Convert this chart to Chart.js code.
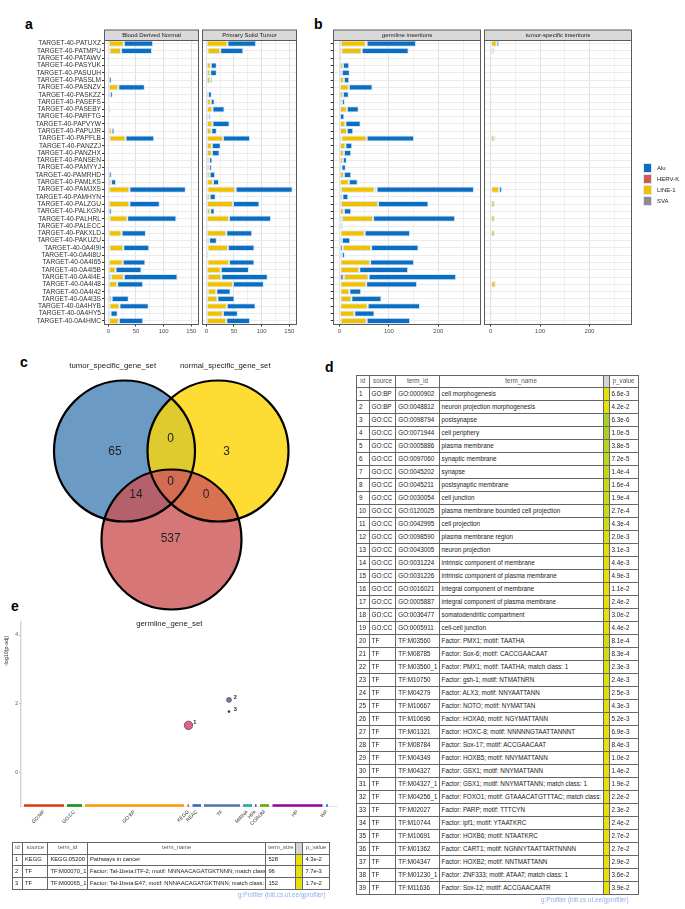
<!DOCTYPE html>
<html><head><meta charset="utf-8">
<script src="https://cdn.jsdelivr.net/npm/chart.js@4.4.1/dist/chart.umd.min.js"></script>
<style>
html,body{margin:0;padding:0;background:#fff}
body{position:relative;width:685px;height:909px;overflow:hidden;font-family:"Liberation Sans",Arial,Helvetica,sans-serif}
canvas{position:absolute;display:block}
.plab{position:absolute;font-size:14px;font-weight:bold;line-height:14px;color:#000}
.leg{position:absolute;left:643px;width:40px;font-size:6px;color:#222;line-height:10px;height:10px;white-space:nowrap}
.leg span.k{position:absolute;left:0;top:0;width:9px;height:10px;box-sizing:border-box;border:1px solid #dbe6f2}
.leg span.t{position:absolute;left:14px;top:0}
table.gp{position:absolute;border-collapse:collapse;table-layout:fixed;font-size:6.3px;line-height:6.3px;color:#222}
table.gp td,table.gp th{border:1px solid #666;padding:0 0 0 2px;white-space:nowrap;overflow:hidden;text-align:left;font-weight:normal;vertical-align:middle}
table.gp th{text-align:center;color:#555;padding:0}
table.gp td.col,table.gp th.col{padding:0;border-left:1px solid #bbb}
table.small{font-size:5.8px;line-height:5.8px}
.src{position:absolute;font-size:6.3px;color:#8cb0ea;white-space:nowrap;line-height:7px}
</style></head>
<body>
<div class="plab" style="left:25px;top:17px">a</div>
<div class="plab" style="left:314px;top:17px">b</div>
<div class="plab" style="left:20px;top:355px">c</div>
<div class="plab" style="left:325px;top:360px">d</div>
<div class="plab" style="left:11px;top:599px">e</div>
<canvas id="a1" width="202" height="345" style="left:0;top:0"></canvas>
<canvas id="a2" width="100" height="345" style="left:200px;top:0"></canvas>
<canvas id="b1" width="158" height="345" style="left:326px;top:0"></canvas>
<canvas id="b2" width="203" height="345" style="left:482px;top:0"></canvas>
<canvas id="venn" width="340" height="285" style="left:0;top:355px"></canvas>
<canvas id="gp" width="345" height="228" style="left:0;top:612px"></canvas>
<table id="tabD" class="gp" style="left:356px;top:375px"></table>
<table id="tabE" class="gp small" style="left:12px;top:842px"></table>
<div class="src" style="left:541px;top:896px">g:Profiler (biit.cs.ut.ee/gprofiler)</div>
<div class="src" style="left:238px;top:891px">g:Profiler (biit.cs.ut.ee/gprofiler)</div>
<script>
// ---------------- DATA ----------------
const samples = ["TARGET-40-PATUXZ","TARGET-40-PATMPU","TARGET-40-PATAWV","TARGET-40-PASYUK","TARGET-40-PASUUH","TARGET-40-PASSLM","TARGET-40-PASNZV","TARGET-40-PASKZZ","TARGET-40-PASEFS","TARGET-40-PASEBY","TARGET-40-PARFTG","TARGET-40-PAPVYW","TARGET-40-PAPUJR","TARGET-40-PAPFLB","TARGET-40-PANZZJ","TARGET-40-PANZHX","TARGET-40-PANSEN","TARGET-40-PAMYYJ","TARGET-40-PAMRHD","TARGET-40-PAMLKS","TARGET-40-PAMJXS","TARGET-40-PAMHYN","TARGET-40-PALZGU","TARGET-40-PALKGN","TARGET-40-PALHRL","TARGET-40-PALECC","TARGET-40-PAKXLD","TARGET-40-PAKUZU","TARGET-40-0A4I9I","TARGET-40-0A4I8U","TARGET-40-0A4I65","TARGET-40-0A4I5B","TARGET-40-0A4I4E","TARGET-40-0A4I48","TARGET-40-0A4I42","TARGET-40-0A4I3S","TARGET-40-0A4HYB","TARGET-40-0A4HY5","TARGET-40-0A4HMC"];

// Panel a: Blood Derived Normal
const normalSVA   = [0,2,0,0,0,0,0,0,0,0, 0,0,0,2,0,0,0,0,0,0, 0,0,0,0,2,0,1,0,2,0, 1,0,5,1,0,0,2,0,0];
const normalLINE1 = [28,21,0,0,0,1,18,3,0,1, 0,0,6,29,1,0,0,0,1,5, 38,1,38,1,32,0,23,0,25,2, 25,13,23,15,4,6,18,4,19];
const normalHERVK = [0,0,0,0,0,0,0,0,0,0, 0,0,0,0,0,0,0,0,0,0, 0,0,0,0,0,0,0,0,0,0, 0,0,0,0,0,0,0,0,0];
const normalAlu   = [53,56,2,1,2,5,48,5,0,2, 0,0,5,52,0,0,1,1,5,9, 102,0,55,5,89,0,44,2,47,0, 41,47,97,47,1,31,53,13,44];
// Panel a: Primary Solid Tumor
const tumorSVA    = [0,2,0,0,0,0,0,0,0,0, 0,0,0,0,0,0,0,0,0,0, 2,0,0,0,0,0,0,0,2,0, 2,0,2,0,3,0,0,0,0];
const tumorLINE1  = [38,23,0,8,7,7,0,3,8,11, 4,11,9,30,10,10,5,5,6,12, 50,6,48,7,41,2,36,5,37,0, 39,26,25,48,15,20,37,30,36];
const tumorHERVK  = [0,0,0,0,0,0,0,0,0,0, 0,0,0,0,0,0,0,0,0,0, 1,0,0,0,0,0,0,0,0,0, 0,0,0,0,0,0,0,0,0];
const tumorAlu    = [52,42,2,11,12,4,0,7,7,22, 4,31,10,49,16,14,6,5,10,11, 103,11,48,8,76,2,47,14,48,3, 46,51,84,56,26,31,52,27,43];
// Panel b: germline insertions
const germSVA     = [3,4,0,0,0,0,0,0,0,0, 0,0,0,4,0,0,0,0,0,0, 3,0,3,0,5,0,2,0,7,0, 2,2,9,2,2,2,2,0,2];
const germLINE1   = [50,41,0,7,5,9,19,7,5,15, 0,12,15,51,12,9,7,4,9,19, 68,6,75,9,63,3,49,5,57,5, 60,38,50,52,18,22,55,30,53];
const germHERVK   = [2,0,0,0,0,0,0,0,0,0, 0,0,0,0,0,0,0,0,0,0, 4,0,0,0,0,0,0,0,0,0, 0,0,0,0,0,0,0,0,0];
const germAlu     = [100,95,4,13,16,11,48,12,6,24, 10,31,13,96,14,15,8,9,15,18, 197,12,102,15,166,4,92,17,96,6, 89,99,177,103,24,61,106,41,88];
// Panel b: tumor-specific insertions
const tspecSVA    = [0,0,0,0,0,0,0,0,0,0, 0,0,0,0,0,0,0,0,0,0, 0,0,0,0,0,0,0,0,0,0, 0,0,0,0,0,0,0,0,0];
const tspecLINE1  = [12,3,0,0,0,0,0,0,3,0, 0,0,0,7,0,0,0,0,0,0, 17,2,8,0,8,0,8,0,0,0, 2,0,0,10,0,1,0,3,0];
const tspecHERVK  = [0,0,0,0,0,0,0,0,0,0, 0,0,0,0,0,0,0,0,0,0, 0,0,0,0,0,0,0,0,0,0, 0,0,0,0,0,0,0,0,0];
const tspecAlu    = [5,4,0,0,0,0,0,0,0,0, 0,0,0,3,1,0,0,0,0,0, 6,0,0,0,0,0,0,0,0,0, 0,0,0,0,3,0,0,0,0];

const teTypes = ["Alu","HERV-K","LINE-1","SVA"];
const ticksA = [0,25,50,75,100,125,150];
const majorA = [0,50,100,150];
const ticksB = [0,50,100,150,200,250];
const majorB = [0,100,200];

// Panel c: Venn
const vennSetNames = ["tumor_specific_gene_set","normal_specific_gene_set","germline_gene_set"];
const vennRegions  = ["T","N","G","TN","TG","NG","TNG"];
const vennCounts   = [65,3,537,0,14,0,0];

// Panel d: GO / TF table
const dSource = ["GO:BP","GO:BP","GO:CC","GO:CC","GO:CC","GO:CC","GO:CC","GO:CC","GO:CC","GO:CC","GO:CC","GO:CC","GO:CC","GO:CC","GO:CC","GO:CC","GO:CC","GO:CC","GO:CC","TF","TF","TF","TF","TF","TF","TF","TF","TF","TF","TF","TF","TF","TF","TF","TF","TF","TF","TF","TF"];
const dTermId = ["GO:0000902","GO:0048812","GO:0098794","GO:0071944","GO:0005886","GO:0097060","GO:0045202","GO:0045211","GO:0030054","GO:0120025","GO:0042995","GO:0098590","GO:0043005","GO:0031224","GO:0031226","GO:0016021","GO:0005887","GO:0036477","GO:0005911","TF:M03560","TF:M08785","TF:M03560_1","TF:M10750","TF:M04279","TF:M10667","TF:M10696","TF:M01321","TF:M08784","TF:M04349","TF:M04327","TF:M04327_1","TF:M04256_1","TF:M02027","TF:M10744","TF:M10691","TF:M01362","TF:M04347","TF:M01230_1","TF:M11636"];
const dTermName = ["cell morphogenesis","neuron projection morphogenesis","postsynapse","cell periphery","plasma membrane","synaptic membrane","synapse","postsynaptic membrane","cell junction","plasma membrane bounded cell projection","cell projection","plasma membrane region","neuron projection","intrinsic component of membrane","intrinsic component of plasma membrane","integral component of membrane","integral component of plasma membrane","somatodendritic compartment","cell-cell junction","Factor: PMX1; motif: TAATHA","Factor: Sox-6; motif: CACCGAACAAT","Factor: PMX1; motif: TAATHA; match class: 1","Factor: gsh-1; motif: NTMATNRN","Factor: ALX3; motif: NNYAATTANN","Factor: NOTO; motif: NYMATTAN","Factor: HOXA6; motif: NGYMATTANN","Factor: HOXC-8; motif: NNNNNGTAATTANNNT","Factor: Sox-17; motif: ACCGAACAAT","Factor: HOXB5; motif: NNYMATTANN","Factor: GSX1; motif: NNYMATTANN","Factor: GSX1; motif: NNYMATTANN; match class: 1","Factor: FOXO1; motif: GTAAACATGTTTAC; match class: 1","Factor: PARP; motif: TTTCYN","Factor: ipf1; motif: YTAATKRC","Factor: HOXB6; motif: NTAATKRC","Factor: CART1; motif: NGNNYTAATTARTNNNN","Factor: HOXB2; motif: NNTMATTANN","Factor: ZNF333; motif: ATAAT; match class: 1","Factor: Sox-12; motif: ACCGAACAATR"];
const dPValue = [6.6e-03,4.2e-02,6.3e-06,1.0e-05,3.8e-05,7.2e-05,1.4e-04,1.6e-04,1.9e-04,2.7e-04,4.3e-04,2.0e-03,3.1e-03,4.4e-03,4.9e-03,1.1e-02,2.4e-02,3.0e-02,4.4e-02,8.1e-04,8.3e-04,2.3e-03,2.4e-03,2.5e-03,4.3e-03,5.2e-03,6.9e-03,8.4e-03,1.0e-02,1.4e-02,1.9e-02,2.2e-02,2.3e-02,2.4e-02,2.7e-02,2.7e-02,2.9e-02,3.6e-02,3.9e-02];

// Panel e: g:Profiler Manhattan + table
const gpSources = ["GO:MF","GO:CC","GO:BP","KEGG","REAC","TF","MIRNA","HPA","CORUM","HP","WP"];
const gpSourceStart = [3,46,64,166.5,171.5,183,222,234,239,251.5,305];
const gpSourceEnd   = [43,61,163,168,180,219,231,235.5,248,301.5,307];
const gpYTicks = [0,2,4];
const ePointX = [167.5,208,208];
const eNegLog10P = [1.37,2.11,1.77];
const eSource = ["KEGG","TF","TF"];
const eTermId = ["KEGG:05200","TF:M00070_1","TF:M00065_1"];
const eTermName = ["Pathways in cancer","Factor: Tal-1beta:ITF-2; motif: NNNAACAGATGKTNNN; match class: 1","Factor: Tal-1beta:E47; motif: NNNAACAGATGKTNNN; match class: 1"];
const eTermSize = [528,96,152];
const ePValue = [4.3e-02,7.7e-03,1.7e-02];

// ---------------- STYLE ----------------
const FONT = '"Liberation Sans", Arial, sans-serif';
Chart.defaults.font.family = FONT;
const teColor = {"Alu":"#0a6fc2","HERV-K":"#d6584f","LINE-1":"#f1c100","SVA":"#8c8c8c"};
const gpColors = ["#dc3912","#109618","#ff9900","#dd4477","#3366cc","#5574a6","#22aa99","#6633cc","#66aa00","#990099","#0099c6"];

function teDatasets(sva, line, herv, alu){
  return [["SVA",sva],["LINE-1",line],["HERV-K",herv],["Alu",alu]].map(([n,d])=>({
    label:n, data:d, backgroundColor:teColor[n], borderColor:"rgba(214,228,243,0.95)",
    borderWidth:1, borderSkipped:false, barPercentage:0.85, categoryPercentage:1, stack:"s"
  }));
}

const panelPlugin = {
  id:"panel",
  afterDraw(chart, args, o){
    const {ctx, chartArea:a} = chart;
    const L=Math.round(a.left)+0.5, R=Math.round(a.right)-0.5, T=Math.round(a.top)+0.5, B=Math.round(a.bottom)-0.5;
    ctx.save();
    ctx.fillStyle="#d9d9d9"; ctx.fillRect(L, T-10.5, R-L, 10.5);
    ctx.strokeStyle="#5c5c5c"; ctx.lineWidth=1;
    ctx.strokeRect(L, T-10.5, R-L, 10.5);
    ctx.strokeRect(L, T, R-L, B-T);
    ctx.fillStyle="#1a1a1a"; ctx.font="6px "+FONT; ctx.textAlign="center"; ctx.textBaseline="middle";
    ctx.fillText(o.strip, (L+R)/2, T-5);
    ctx.restore();
  }
};

function facet(id, datasets, o){
  return new Chart(document.getElementById(id), {
    type:"bar",
    data:{labels:samples, datasets},
    options:{
      indexAxis:"y", responsive:false, animation:false,
      layout:{padding:{top:40, left:o.padLeft, right:o.padRight, bottom:0}},
      plugins:{legend:{display:false}, tooltip:{enabled:false}, panel:{strip:o.strip}},
      scales:{
        x:{type:"linear", stacked:true, min:o.min, max:o.max,
          afterBuildTicks:s=>{ s.ticks = o.ticks.map(v=>({value:v})); },
          afterFit:s=>{ s.height = 20.5; },
          ticks:{autoSkip:false, maxRotation:0, minRotation:0, padding:1, font:{size:6}, color:"#4d4d4d",
            callback:v=> o.major.includes(v) ? String(v) : ""},
          grid:{lineWidth:1, tickLength:2,
            color:c=> (c.tick && o.major.includes(c.tick.value)) ? "#e2e2e2" : "#f1f1f1",
            tickColor:c=> (c.tick && o.major.includes(c.tick.value)) ? "#333" : "rgba(0,0,0,0)"},
          border:{display:false}},
        y:{type:"category", stacked:true,
          afterFit:s=>{ s.width = o.yw; },
          ticks:{display:o.showY, autoSkip:false, padding:1, font:{size:6.6}, color:"#333"},
          grid:{offset:false, color:"#ebebeb", lineWidth:1, drawTicks:o.yTicks, tickLength:2, tickColor:"#333"},
          border:{display:false}}
      }
    },
    plugins:[panelPlugin]
  });
}

facet("a1", teDatasets(normalSVA,normalLINE1,normalHERVK,normalAlu),
  {strip:"Blood Derived Normal", min:-7.8, max:163.8, ticks:ticksA, major:majorA, yw:104, showY:true, yTicks:true, padLeft:0, padRight:3});
facet("a2", teDatasets(tumorSVA,tumorLINE1,tumorHERVK,tumorAlu),
  {strip:"Primary Solid Tumor", min:-7.8, max:163.8, ticks:ticksA, major:majorA, yw:0, showY:false, yTicks:false, padLeft:2, padRight:3});
facet("b1", teDatasets(germSVA,germLINE1,germHERVK,germAlu),
  {strip:"germline insertions", min:-13.6, max:285.6, ticks:ticksB, major:majorB, yw:6.7, showY:false, yTicks:true, padLeft:0, padRight:3.3});
facet("b2", teDatasets(tspecSVA,tspecLINE1,tspecHERVK,tspecAlu),
  {strip:"tumor-specific insertions", min:-13.6, max:285.6, ticks:ticksB, major:majorB, yw:0, showY:false, yTicks:false, padLeft:2, padRight:53.3});

// legend for panel b
teTypes.forEach((n,i)=>{
  const d=document.createElement("div"); d.className="leg"; d.style.top=(163+i*11)+"px";
  d.innerHTML='<span class="k" style="background:'+teColor[n]+'"></span><span class="t">'+n+'</span>';
  document.body.appendChild(d);
});

// ---------------- VENN ----------------
const vennLayout = {
  circles:[[124.5,451,70.5],[218,451,70.5],[171.5,539.5,70]],
  fills:{T:"#6b9bc4",N:"#fddd33",G:"#d77677",TN:"#dfcb2e",TG:"#b5616c",NG:"#d97150",TNG:"#d26c52"},
  countPos:[[115,451.7],[226.7,451.7],[170.7,538.3],[170.7,439],[136,495],[206,495],[170.7,481.7]],
  namePos:[[112.7,366],[225.3,366],[169.3,624.3]]
};
const vennPlugin = {
  id:"venn",
  beforeDatasetsDraw(chart){
    const {ctx, scales:{x,y}} = chart;
    const cs = vennLayout.circles.map(c=>({cx:x.getPixelForValue(c[0]), cy:y.getPixelForValue(c[1]), r:x.getPixelForValue(c[0]+c[2])-x.getPixelForValue(c[0])}));
    const path = c=>{ ctx.beginPath(); ctx.arc(c.cx,c.cy,c.r,0,Math.PI*2); };
    const region = (idx, col)=>{ ctx.save(); idx.forEach(i=>{ path(cs[i]); ctx.clip(); }); ctx.fillStyle=col; ctx.fillRect(0,0,chart.width,chart.height); ctx.restore(); };
    const F = vennLayout.fills;
    region([0],F.T); region([1],F.N); region([2],F.G);
    region([0,1],F.TN); region([0,2],F.TG); region([1,2],F.NG); region([0,1,2],F.TNG);
    ctx.save(); ctx.lineWidth=2.2; ctx.strokeStyle="#000";
    cs.forEach(c=>{ path(c); ctx.stroke(); });
    ctx.restore();
  },
  afterDatasetsDraw(chart){
    const {ctx, scales:{x,y}} = chart;
    const meta = chart.getDatasetMeta(0);
    ctx.save(); ctx.fillStyle="#222"; ctx.textAlign="center"; ctx.textBaseline="middle";
    ctx.font="12px "+FONT;
    meta.data.forEach((p,i)=> ctx.fillText(String(vennCounts[i]), p.x, p.y));
    ctx.font="7.8px "+FONT;
    vennLayout.namePos.forEach((p,i)=> ctx.fillText(vennSetNames[i], x.getPixelForValue(p[0]), y.getPixelForValue(p[1])));
    ctx.restore();
  }
};
new Chart(document.getElementById("venn"), {
  type:"scatter",
  data:{labels:vennRegions, datasets:[{data:vennLayout.countPos.map(p=>({x:p[0],y:p[1]})), pointRadius:0}]},
  options:{responsive:false, animation:false, layout:{padding:0},
    plugins:{legend:{display:false}, tooltip:{enabled:false}},
    scales:{x:{display:false,min:0,max:340}, y:{display:false,min:355,max:640,reverse:true}}},
  plugins:[vennPlugin]
});

// ---------------- g:Profiler plot ----------------
const gpCenters = gpSourceStart.map((s,i)=>(s+gpSourceEnd[i])/2);
const segY = -0.965;
const segDatasets = gpSources.map((n,i)=>({
  type:"scatter", label:n, showLine:true, data:[{x:gpSourceStart[i],y:segY},{x:gpSourceEnd[i],y:segY}],
  borderColor:gpColors[i], backgroundColor:gpColors[i], borderWidth:2.6, pointRadius:0, borderCapStyle:"butt", clip:false
}));
const gpLabelPlugin = {
  id:"gplab",
  afterDatasetsDraw(chart){
    const {ctx} = chart;
    const meta = chart.getDatasetMeta(chart.data.datasets.length-1);
    ctx.save(); ctx.fillStyle="#222"; ctx.font="bold 5.6px "+FONT; ctx.textAlign="center"; ctx.textBaseline="middle";
    meta.data.forEach((p,i)=> ctx.fillText(String(i+1), p.x+6.2, p.y-2.6));
    ctx.fillStyle="#333"; ctx.font="5.4px "+FONT;
    ctx.translate(6.7, 39); ctx.rotate(-Math.PI/2); ctx.fillText("-log10(p-adj)", 0, 0);
    ctx.restore();
  }
};
new Chart(document.getElementById("gp"), {
  type:"scatter",
  data:{datasets:[...segDatasets, {
    label:"terms", data:ePointX.map((x,i)=>({x, y:eNegLog10P[i]})),
    pointRadius:[4.2,2.4,1], pointBackgroundColor:["#e3648c","#6d84b4","#333"],
    pointBorderColor:"#3a3a3a", pointBorderWidth:0.7
  }]},
  options:{responsive:false, animation:false,
    layout:{padding:{top:10, right:8, left:0, bottom:0}},
    plugins:{legend:{display:false}, tooltip:{enabled:false}},
    scales:{
      x:{type:"linear", min:0, max:316,
        afterFit:s=>{ s.height = 34; },
        afterBuildTicks:s=>{ s.ticks = gpCenters.map(v=>({value:v})); },
        ticks:{autoSkip:false, minRotation:45, maxRotation:45, padding:3, font:{size:5}, color:"#333",
          callback:(v,i)=>gpSources[i]},
        grid:{display:false, drawTicks:false},
        border:{display:true, color:"#e6e6e6", width:1}},
      y:{type:"linear", min:-0.98, max:4.38,
        afterFit:s=>{ s.width = 21; },
        afterBuildTicks:s=>{ s.ticks = gpYTicks.map(v=>({value:v})); },
        ticks:{padding:1, font:{size:5}, color:"#555"},
        grid:{drawOnChartArea:false, tickLength:2, tickColor:"#aaa"},
        border:{display:true, color:"#d6d6d6", width:1.5}}
    }
  },
  plugins:[gpLabelPlugin]
});

// ---------------- TABLES ----------------
function pColor(p){
  const t=Math.max(0,Math.min(1,(-Math.log10(p)-2.3)/(5.2-2.3)));
  const a=[228,224,8], b=[168,208,40];
  return "rgb("+a.map((v,i)=>Math.round(v+(b[i]-v)*t)).join(",")+")";
}
function buildTable(id, widths, headers, rows, colorIdx, rowH, headH){
  const t=document.getElementById(id);
  t.style.width = widths.reduce((a,b)=>a+b,0)+"px";
  let h="<colgroup>"+widths.map(w=>'<col style="width:'+w+'px">').join("")+"</colgroup>";
  h+='<tr style="height:'+headH+'px">'+headers.map((x,i)=> i===colorIdx ? '<th class="col" style="background:#d4d4d4"></th>' : "<th>"+x+"</th>").join("")+"</tr>";
  rows.forEach(r=>{
    h+='<tr style="height:'+rowH+'px">'+r.map((c,i)=> i===colorIdx ? '<td class="col" style="background:'+c+'"></td>' : "<td>"+c+"</td>").join("")+"</tr>";
  });
  t.innerHTML=h;
}
buildTable("tabD", [12.6,26.7,43.3,164,6,29], ["id","source","term_id","term_name","","p_value"],
  dTermId.map((tid,i)=>[i+1, dSource[i], tid, dTermName[i], pColor(dPValue[i]), dPValue[i].toExponential(1)]), 4, 13, 12);
buildTable("tabE", [10,25.4,39.6,178.4,30,7,26.6], ["id","source","term_id","term_name","term_size","","p_value"],
  eTermId.map((tid,i)=>[i+1, eSource[i], tid, eTermName[i], eTermSize[i], pColor(ePValue[i]), ePValue[i].toExponential(1)]), 5, 11.7, 11.7);
</script>
</body></html>
